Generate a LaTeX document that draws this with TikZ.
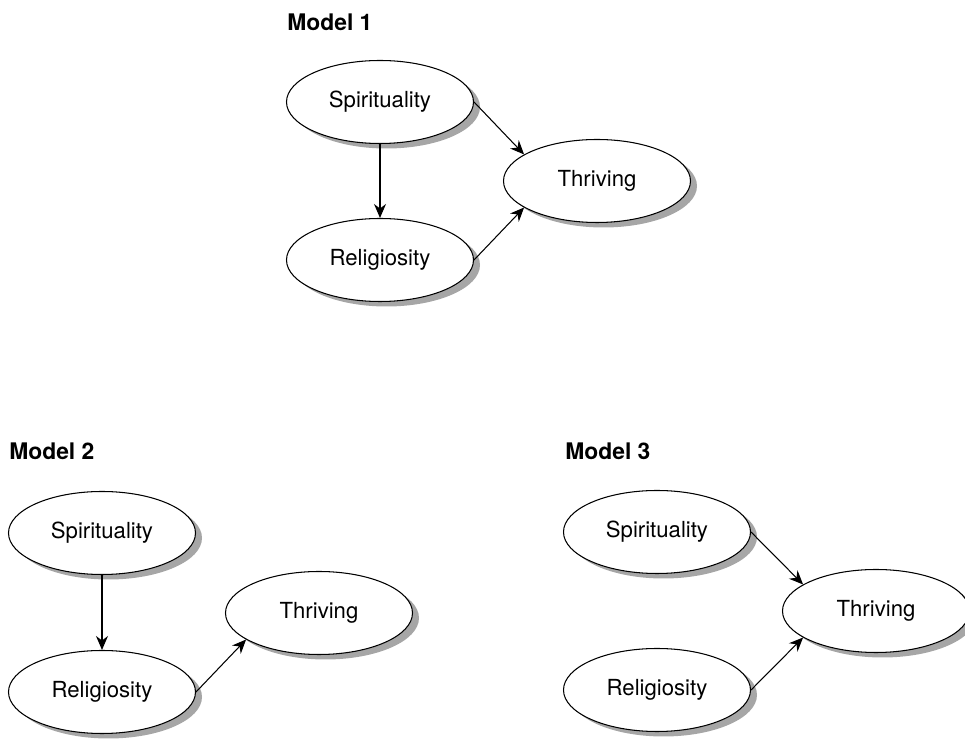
\documentclass[tikz,border=0pt]{standalone}
\usepackage{fontspec}
\setmainfont{TeX Gyre Heros}
\usetikzlibrary{shapes.geometric,shadows,arrows.meta}

\tikzset{
  var/.style={ellipse,draw,line width=0.6pt,fill=white,minimum width=3.74cm,
    minimum height=1.66cm,inner sep=0pt,font=\fontsize{12.6}{14}\selectfont,
    drop shadow={shadow xshift=0.13cm,shadow yshift=-0.1cm,fill=black!35,opacity=1}},
  modeltitle/.style={anchor=west,inner sep=0pt,font=\fontsize{13}{15}\selectfont\bfseries},
  path/.style={-{Stealth[length=2.8mm,width=2.4mm]},line width=0.6pt}
}

\begin{document}
\begin{tikzpicture}
  \useasboundingbox (0,0) rectangle (19.3,-14.82);
  % ===== Model 1 =====
  \begin{scope}[shift={(7.6,-2.04)}]
    \node[modeltitle] (m1) at (-1.86,1.6) {Model 1};
    \node[var] (s1) at (0,0) {Spirituality};
    \node[var] (r1) at (0,-3.16) {Religiosity};
    \node[var] (t1) at (4.34,-1.58) {Thriving};
    \draw[path] (s1.south) -- (r1.north);
    \draw[path] (s1.east) -- (t1.160);
    \draw[path] (r1.east) -- (t1.200);
  \end{scope}
  % ===== Model 2 =====
  \begin{scope}[shift={(2.04,-10.66)}]
    \node[modeltitle] (m2) at (-1.86,1.64) {Model 2};
    \node[var] (s2) at (0,0) {Spirituality};
    \node[var] (r2) at (0,-3.18) {Religiosity};
    \node[var] (t2) at (4.34,-1.6) {Thriving};
    \draw[path] (s2.south) -- (r2.north);
    \draw[path] (r2.east) -- (t2.200);
  \end{scope}
  % ===== Model 3 =====
  \begin{scope}[shift={(13.14,-10.64)}]
    \node[modeltitle] (m3) at (-1.84,1.62) {Model 3};
    \node[var] (s3) at (0,0) {Spirituality};
    \node[var] (r3) at (0,-3.16) {Religiosity};
    \node[var] (t3) at (4.38,-1.58) {Thriving};
    \draw[path] (s3.east) -- (t3.160);
    \draw[path] (r3.east) -- (t3.200);
  \end{scope}
\end{tikzpicture}
\end{document}
